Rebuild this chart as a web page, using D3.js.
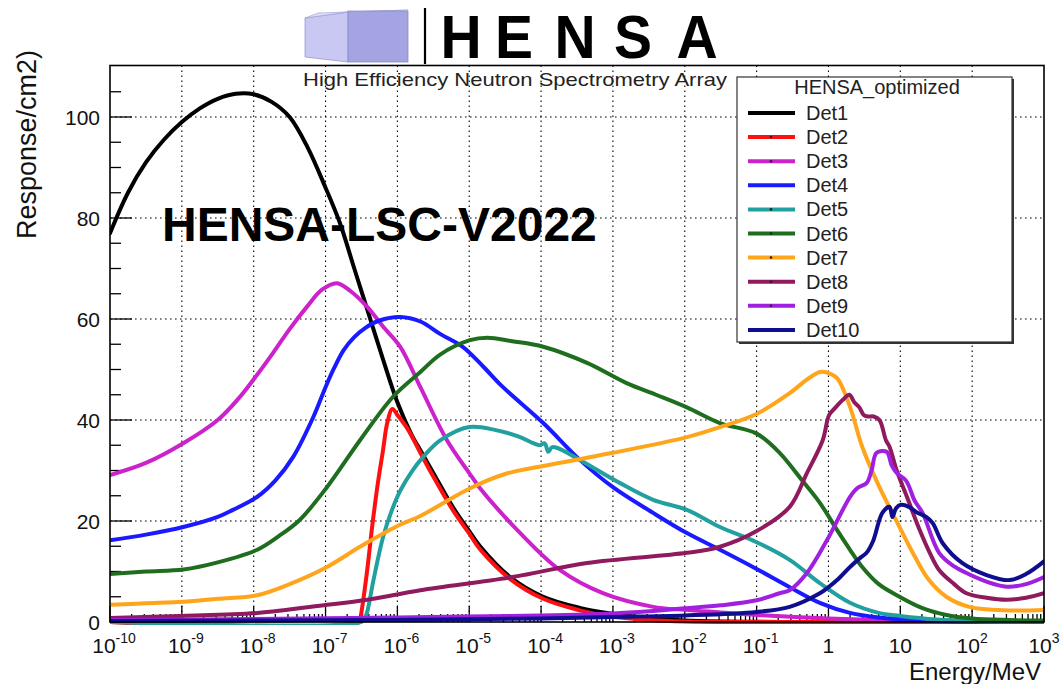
<!DOCTYPE html>
<html>
<head>
<meta charset="utf-8">
<script src="https://cdn.jsdelivr.net/npm/d3@7"></script>
<style>
  body { margin: 0; background: #fff; }
  svg { display: block; }
  text { font-family: "Liberation Sans", Arial, Helvetica, sans-serif; }
</style>
</head>
<body>
<svg id="chart" width="1060" height="684"></svg>
<script>
// Detector response curves: each point is [log10(E / MeV), response per cm2]
const det1 = [[-10,77],[-9.75,85],[-9.5,91],[-9.25,95.5],[-9,99],[-8.75,101.7],[-8.5,103.6],[-8.25,104.6],[-8,104.5],[-7.75,103],[-7.5,100],[-7.25,94],[-7,86],[-6.8,79],[-6.6,70],[-6.4,61],[-6.2,52],[-6,43.5],[-5.8,37],[-5.68,34],[-5.5,29.5],[-5.23,22.8],[-5,18],[-4.85,15],[-4.43,8.9],[-3.97,5],[-3.46,2.8],[-3.08,1.8],[-2.5,0.8],[-2,0.3],[-1,0.05],[0,0],[3,0]];
const det2 = [[-10,0],[-6.53,0],[-6.5,2],[-6.42,10.3],[-6.35,19],[-6.28,26.7],[-6.2,34],[-6.14,39.5],[-6.07,42.2],[-6,41],[-5.86,38.3],[-5.68,33.5],[-5.5,28.8],[-5.23,22.2],[-5,17.5],[-4.85,14.4],[-4.43,8.5],[-3.97,4.6],[-3.46,2.3],[-3.08,1.2],[-2.5,0.4],[-2,0.1],[-1,0],[3,0]];
const det3 = [[-10,29.1],[-9.5,31.5],[-8.98,35.4],[-8.5,40],[-8.19,44.6],[-7.95,49],[-7.73,53.3],[-7.5,58],[-7.26,62.4],[-7.05,65.8],[-6.84,67.1],[-6.65,65.5],[-6.42,62.4],[-6.2,58.5],[-5.96,54.5],[-5.68,46.5],[-5.31,36],[-5,29.5],[-4.85,26.5],[-4.29,17.6],[-3.74,10.3],[-3.14,5.7],[-2.44,3],[-2,2.4],[-1.5,1.9],[-1,1.4],[0,0.7],[1,0.3],[2,0.1],[3,0.05]];
const det4 = [[-10,16.2],[-9.5,17.3],[-8.98,18.8],[-8.5,20.8],[-8.29,22.2],[-7.95,24.8],[-7.7,28],[-7.45,32.7],[-7.17,40.6],[-7,46.5],[-6.88,50.3],[-6.75,53.8],[-6.6,56.4],[-6.45,58.2],[-6.25,59.7],[-5.96,60.4],[-5.68,59.5],[-5.4,57],[-5.09,54.5],[-4.8,50.5],[-4.53,46.5],[-3.97,39.4],[-3.46,32.1],[-3,26.7],[-2.44,21.6],[-1.97,17.6],[-1.51,14.3],[-1,10.5],[-0.54,6.9],[-0.12,3.8],[0.3,1.8],[0.7,0.9],[1.5,0.2],[2,0.05],[3,0]];
const det5 = [[-10,0],[-6.5,0],[-6.45,0.8],[-6.42,2],[-6.33,8.5],[-6.2,16.8],[-6.08,22],[-5.96,26],[-5.8,29.8],[-5.64,32.7],[-5.4,36],[-5,38.6],[-4.63,38],[-4.29,36.6],[-4.11,35.4],[-4.02,35],[-3.95,35.4],[-3.9,33.7],[-3.85,34.6],[-3.78,34.5],[-3.46,32.1],[-2.9,27.5],[-2.44,24.2],[-1.97,22.2],[-1.51,18.8],[-1,15.8],[-0.54,12.3],[-0.12,7.7],[0.3,3.8],[0.7,1.8],[1,1.2],[1.5,0.5],[2,0.2],[3,0.1]];
const det6 = [[-10,9.5],[-9.5,10],[-8.98,10.4],[-8.5,11.8],[-7.95,14.3],[-7.65,17],[-7.36,20.2],[-6.98,26.7],[-6.52,36],[-6.06,44.6],[-5.68,49.5],[-5.4,53],[-4.99,55.8],[-4.75,56.3],[-4.4,55.6],[-3.97,54.5],[-3.36,51.3],[-2.81,47.3],[-2.4,45],[-1.97,42.5],[-1.51,39.4],[-1,37.3],[-0.68,33.5],[-0.37,28.1],[-0.12,23.6],[0.12,18.2],[0.3,14.3],[0.47,10.9],[0.7,7.5],[0.99,5],[1.3,2.8],[1.64,1.4],[2,0.7],[2.5,0.4],[3,0.3]];
const det7 = [[-10,3.4],[-9.5,3.7],[-8.98,4],[-8.5,4.6],[-7.95,5.3],[-7.5,7.5],[-6.98,10.9],[-6.52,14.9],[-6,19],[-5.68,21],[-5,26.4],[-4.5,29.3],[-3.97,30.9],[-3,33.5],[-1.97,36.6],[-1.51,38.6],[-1,41.2],[-0.54,45.3],[-0.3,48],[-0.12,49.5],[0,49.3],[0.12,48.3],[0.3,42.6],[0.47,34.7],[0.7,27],[0.99,18.8],[1.2,13],[1.4,8.3],[1.64,5],[1.96,3],[2.5,2.3],[3,2.4]];
const det8 = [[-10,0.8],[-9,1.2],[-7.95,1.8],[-6.98,3.4],[-6.42,4.4],[-5.68,6.3],[-4.4,8.9],[-3.36,11.7],[-1.97,13.7],[-1.51,14.9],[-1,18],[-0.54,22.8],[-0.3,29.5],[-0.08,36],[0.01,41],[0.1,42.5],[0.2,44],[0.29,45],[0.36,43.5],[0.43,42.5],[0.49,41],[0.55,40.7],[0.63,40.7],[0.71,40],[0.8,36],[0.85,34.7],[0.95,30],[1.1,24.5],[1.27,18.2],[1.4,14],[1.54,10.3],[1.75,7.5],[1.92,5.7],[2.2,4.8],[2.48,4.4],[2.75,4.8],[3,5.7]];
const det9 = [[-10,0.4],[-8,0.6],[-6,0.9],[-4,1.3],[-3,1.7],[-2.44,2.2],[-2,2.7],[-1.5,3.3],[-1,4.3],[-0.68,5.7],[-0.54,6.3],[-0.3,9.7],[0.01,17],[0.3,24.8],[0.4,26.5],[0.53,27.5],[0.6,30],[0.67,33.5],[0.81,33.7],[0.88,31],[0.95,29.5],[1.08,28],[1.2,24],[1.31,21.6],[1.54,13.7],[1.75,11],[1.92,9.7],[2.2,8],[2.48,7],[2.75,7.5],[3,8.9]];
const det10 = [[-10,0.2],[-6,0.4],[-4,0.7],[-3,1],[-2,1.3],[-1,2],[-0.54,3],[-0.12,5.7],[0.01,7],[0.12,8.3],[0.3,10.9],[0.45,12.8],[0.53,13.7],[0.62,16],[0.75,21.6],[0.85,22.8],[0.89,20.8],[0.94,22.5],[1.01,23.2],[1.12,22.8],[1.22,21.8],[1.36,20.8],[1.45,19.6],[1.59,15.6],[1.86,11.7],[2.2,9.3],[2.52,8.3],[2.75,9.5],[3,12]];

const seriesNames = ["Det1","Det2","Det3","Det4","Det5","Det6","Det7","Det8","Det9","Det10"];
const seriesData = [det1, det2, det3, det4, det5, det6, det7, det8, det9, det10];
const seriesColors = ["#000000","#ff1010","#cc22cc","#1a1aff","#22a0a0","#1f6e1f","#ffa51c","#8f1a5e","#a020e0","#0e0e8e"];
const legendDots = [false, true, true, false, true, true, true, true, true, false];

const xTickExponents = d3.range(-10, 4);   // 1e-10 ... 1e3
const yTicks = [0, 20, 40, 60, 80, 100];
const yMinorTicks = d3.range(0, 110, 5);

const legendTitle = "HENSA_optimized";
const stamp = "HENSA-LSC-V2022";
const logoLetters = ["H", "E", "N", "S", "A"];
const logoSubtitle = "High Efficiency Neutron Spectrometry Array";

// ---------- layout ----------
const plot = { left: 110, right: 1044, top: 65.5, bottom: 622 };
const svg = d3.select("#chart");

const x = d3.scaleLog().domain([1e-10, 1e3]).range([plot.left, plot.right]);
const y = d3.scaleLinear().domain([0, 110]).range([plot.bottom, plot.top + 1]);

svg.append("rect").attr("width", 1060).attr("height", 684).attr("fill", "#fff");

// ---------- grid ----------
const grid = svg.append("g").attr("stroke", "#000").attr("stroke-width", 1.1)
  .attr("stroke-dasharray", "1.6,3.4").attr("fill", "none");
xTickExponents.slice(1, -1).forEach(e => {
  grid.append("line").attr("x1", x(Math.pow(10, e))).attr("x2", x(Math.pow(10, e)))
    .attr("y1", plot.top).attr("y2", plot.bottom);
});
yTicks.slice(1).forEach(v => {
  grid.append("line").attr("x1", plot.left).attr("x2", plot.right)
    .attr("y1", y(v)).attr("y2", y(v));
});

// ---------- ticks ----------
const ticks = svg.append("g").attr("stroke", "#000").attr("stroke-width", 1.3);
yMinorTicks.forEach(v => {
  const major = v % 20 === 0;
  ticks.append("line").attr("x1", plot.left).attr("x2", plot.left + (major ? 22 : 11))
    .attr("y1", y(v)).attr("y2", y(v));
});
xTickExponents.forEach((e, i) => {
  ticks.append("line").attr("x1", x(Math.pow(10, e))).attr("x2", x(Math.pow(10, e)))
    .attr("y1", plot.bottom).attr("y2", plot.bottom - 16);
  if (i < xTickExponents.length - 1) {
    for (let m = 2; m <= 9; m++) {
      const xv = x(m * Math.pow(10, e));
      ticks.append("line").attr("x1", xv).attr("x2", xv)
        .attr("y1", plot.bottom).attr("y2", plot.bottom - 8);
    }
  }
});

// ---------- curves ----------
svg.append("clipPath").attr("id", "plotClip").append("rect")
  .attr("x", plot.left).attr("y", plot.top).attr("width", plot.right - plot.left)
  .attr("height", plot.bottom - plot.top + 3);

const line = d3.line()
  .x(d => x(Math.pow(10, d[0])))
  .y(d => y(Math.max(0, d[1])))
  .curve(d3.curveCatmullRom.alpha(0.5));

const curves = svg.append("g").attr("clip-path", "url(#plotClip)");
seriesData.forEach((s, i) => {
  curves.append("path").datum(s).attr("d", line)
    .attr("fill", "none").attr("stroke", seriesColors[i])
    .attr("stroke-width", 4).attr("stroke-linejoin", "round").attr("stroke-linecap", "round");
});

// ---------- frame ----------
svg.append("rect").attr("x", plot.left).attr("y", plot.top)
  .attr("width", plot.right - plot.left).attr("height", plot.bottom - plot.top)
  .attr("fill", "none").attr("stroke", "#000").attr("stroke-width", 1.6);

// ---------- tick labels ----------
const yLab = svg.append("g").attr("font-size", 21).attr("fill", "#111").attr("text-anchor", "end");
yTicks.forEach(v => {
  yLab.append("text").attr("x", plot.left - 10).attr("y", y(v) + 8).text(v);
});

const xLab = svg.append("g").attr("font-size", 21).attr("fill", "#111").attr("text-anchor", "middle");
xTickExponents.forEach(e => {
  const t = xLab.append("text").attr("x", x(Math.pow(10, e)) + (e < 0 ? 4 : 0)).attr("y", 653);
  if (e === 0) t.text("1");
  else if (e === 1) t.text("10");
  else {
    t.append("tspan").text("10");
    t.append("tspan").attr("font-size", 14).attr("dy", -10).text(String(e));
  }
});

// ---------- axis titles ----------
svg.append("text").attr("x", 1041).attr("y", 680).attr("text-anchor", "end")
  .attr("font-size", 24).attr("fill", "#111").text("Energy/MeV");
svg.append("text").attr("transform", "translate(36,50) rotate(-90)").attr("text-anchor", "end")
  .attr("font-size", 27).attr("fill", "#111").text("Response/cm2)");

// ---------- stamp ----------
svg.append("text").attr("x", 162).attr("y", 241).attr("font-size", 48).attr("font-weight", "bold")
  .attr("fill", "#000").text(stamp);

// ---------- logo ----------
const logo = svg.append("g");
logo.append("polygon").attr("points", "305,18 348,12 348,62 305,57")
  .attr("fill", "#c8c8f2").attr("stroke", "#9a9ad0").attr("stroke-width", 0.8);
logo.append("polygon").attr("points", "305,18 318,13 408,10 348,12")
  .attr("fill", "#dedefa").attr("stroke", "#9a9ad0").attr("stroke-width", 0.6);
logo.append("rect").attr("x", 348).attr("y", 11).attr("width", 60).attr("height", 51)
  .attr("fill", "#a4a4e2").attr("stroke", "#8a8ac8").attr("stroke-width", 0.8);
logo.append("line").attr("x1", 425).attr("x2", 425).attr("y1", 8).attr("y2", 64)
  .attr("stroke", "#000").attr("stroke-width", 2.2);
const letterCenters = [461, 514, 575, 633, 697];
logoLetters.forEach((ch, i) => {
  logo.append("text")
    .attr("transform", `translate(${letterCenters[i]},58) scale(0.92,1)`)
    .attr("text-anchor", "middle").attr("font-size", 62).attr("font-weight", "bold")
    .attr("fill", "#000").text(ch);
});
logo.append("text").attr("x", 303).attr("y", 86).attr("font-size", 19)
  .attr("font-family", "DejaVu Sans, sans-serif").attr("fill", "#222")
  .attr("textLength", 424).attr("lengthAdjust", "spacingAndGlyphs").text(logoSubtitle);

// ---------- legend ----------
const lg = { x: 737, y: 77, w: 275, h: 265 };
const legend = svg.append("g");
legend.append("rect").attr("x", lg.x + 2).attr("y", lg.y + 2).attr("width", lg.w).attr("height", lg.h)
  .attr("fill", "#333");
legend.append("rect").attr("x", lg.x).attr("y", lg.y).attr("width", lg.w).attr("height", lg.h)
  .attr("fill", "#fff").attr("stroke", "#333").attr("stroke-width", 1.2);
legend.append("text").attr("x", 877).attr("y", 94).attr("text-anchor", "middle")
  .attr("font-size", 20).attr("fill", "#222").text(legendTitle);
seriesNames.forEach((name, i) => {
  const cy = 113 + i * 24.1;
  legend.append("line").attr("x1", 748).attr("x2", 795).attr("y1", cy).attr("y2", cy)
    .attr("stroke", seriesColors[i]).attr("stroke-width", 4);
  if (legendDots[i]) {
    legend.append("circle").attr("cx", 771).attr("cy", cy).attr("r", 1.3).attr("fill", "#222");
  }
  legend.append("text").attr("x", 806).attr("y", cy + 7).attr("font-size", 20)
    .attr("fill", "#222").text(name);
});
</script>
</body>
</html>
